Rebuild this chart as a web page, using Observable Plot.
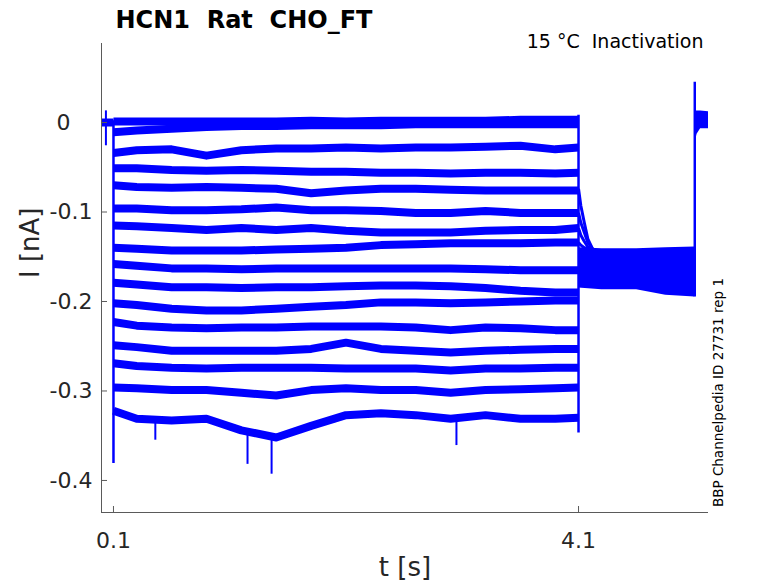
<!DOCTYPE html>
<html><head><meta charset="utf-8">
<script src="https://cdn.jsdelivr.net/npm/d3@7"></script>
<script src="https://cdn.jsdelivr.net/npm/@observablehq/plot@0.6"></script>
<style>
body{margin:0;background:#fff}
svg text{white-space:pre}
</style>
</head><body><div id="chart"></div>
<script>
// ---- data (current in nA, time in s) ----
const titleText = "HCN1  Rat  CHO_FT";
const conditionText = "15 °C  Inactivation";
const sourceText = "BBP Channelpedia ID 27731 rep 1";
const xLabel = "t [s]";
const yLabel = "I [nA]";

const xDomain = [-0.003, 5.218];
const yDomain = [-0.4358, 0.0883];
const xTicks = [0.1, 4.1];
const yTicks = [-0.4, -0.3, -0.2, -0.1];
const yZeroTick = [0];

const holdTimes = [0, 0.1];
const holdValues = [0.0, 0.0];

const stepTimes = [0.1, 0.3, 0.6, 0.9, 1.2, 1.5, 1.8, 2.1, 2.4, 2.7, 3.0, 3.3, 3.6, 3.9, 4.1];
const traces = [
  [0.001,0.001,0.001,0.001,0.001,0.001,0.002,0.001,0.002,0.002,0.002,0.002,0.003,0.003,0.003],
  [-0.011,-0.009,-0.007,-0.005,-0.004,-0.004,-0.003,-0.003,-0.003,-0.002,-0.002,-0.002,-0.002,-0.002,-0.002],
  [-0.034,-0.031,-0.030,-0.037,-0.031,-0.029,-0.029,-0.028,-0.029,-0.028,-0.028,-0.027,-0.026,-0.030,-0.028],
  [-0.051,-0.051,-0.053,-0.054,-0.053,-0.054,-0.055,-0.055,-0.056,-0.056,-0.057,-0.056,-0.056,-0.057,-0.056],
  [-0.070,-0.072,-0.073,-0.072,-0.073,-0.074,-0.079,-0.076,-0.074,-0.074,-0.075,-0.076,-0.076,-0.076,-0.076],
  [-0.096,-0.096,-0.098,-0.098,-0.097,-0.095,-0.098,-0.098,-0.099,-0.101,-0.101,-0.099,-0.101,-0.101,-0.101],
  [-0.115,-0.116,-0.118,-0.120,-0.118,-0.120,-0.118,-0.121,-0.123,-0.123,-0.123,-0.121,-0.120,-0.120,-0.118],
  [-0.140,-0.141,-0.143,-0.143,-0.143,-0.142,-0.141,-0.140,-0.137,-0.136,-0.135,-0.135,-0.135,-0.134,-0.134],
  [-0.158,-0.160,-0.163,-0.163,-0.164,-0.163,-0.163,-0.163,-0.163,-0.163,-0.163,-0.164,-0.165,-0.165,-0.165],
  [-0.179,-0.181,-0.184,-0.184,-0.185,-0.184,-0.184,-0.183,-0.182,-0.182,-0.183,-0.185,-0.188,-0.190,-0.190],
  [-0.202,-0.204,-0.208,-0.210,-0.210,-0.208,-0.206,-0.204,-0.201,-0.201,-0.202,-0.201,-0.200,-0.199,-0.199],
  [-0.223,-0.227,-0.229,-0.230,-0.229,-0.229,-0.228,-0.228,-0.228,-0.229,-0.232,-0.229,-0.230,-0.232,-0.232],
  [-0.249,-0.251,-0.255,-0.255,-0.255,-0.255,-0.253,-0.246,-0.253,-0.255,-0.257,-0.255,-0.254,-0.253,-0.253],
  [-0.269,-0.272,-0.274,-0.275,-0.274,-0.274,-0.274,-0.275,-0.275,-0.275,-0.277,-0.275,-0.275,-0.274,-0.274],
  [-0.296,-0.297,-0.299,-0.299,-0.302,-0.305,-0.299,-0.297,-0.299,-0.299,-0.302,-0.299,-0.298,-0.297,-0.296],
  [-0.322,-0.331,-0.333,-0.331,-0.344,-0.352,-0.339,-0.327,-0.325,-0.327,-0.331,-0.327,-0.331,-0.331,-0.330]
];

// decaying tails right after the step at 4.1 s
const tailTimes = [4.1, 4.12, 4.15, 4.18, 4.22];
const tails = [
  [-0.074,-0.093,-0.112,-0.130,-0.141],
  [-0.101,-0.112,-0.123,-0.134,-0.141],
  [-0.118,-0.126,-0.133,-0.139,-0.142],
  [-0.134,-0.137,-0.140,-0.141,-0.142]
];

// noise envelope of all traces during the test pulse
const testTimes = [4.1, 4.3, 4.6, 4.85, 5.1];
const testTop = [-0.140, -0.141, -0.141, -0.140, -0.139];
const testBottom = [-0.185, -0.187, -0.187, -0.193, -0.195];

// envelope after return to holding
const endTimes = [5.1, 5.12, 5.15, 5.218];
const endTop = [0.013, 0.013, 0.013, 0.012];
const endBottom = [-0.024, -0.013, -0.007, -0.007];

// capacitive transients at the voltage steps
const transTimes = [0.1, 4.1, 5.1];
const transTop = [0.002, 0.008, 0.045];
const transBottom = [-0.381, -0.347, -0.195];

// isolated spikes
const spikeTimes = [0.035, 0.46, 1.253, 1.46, 3.05];
const spikeTop = [0.013, -0.335, -0.345, -0.350, -0.331];
const spikeBottom = [-0.026, -0.355, -0.382, -0.393, -0.361];

// ---- tables built from the arrays ----
const blue = "#0000ff";
const stepRows = traces.flatMap((vals, i) => vals.map((v, j) => ({trace: i, t: stepTimes[j], v})));
const tailRows = tails.flatMap((vals, i) => vals.map((v, j) => ({trace: i, t: tailTimes[j], v})));
const holdRows = holdTimes.map((t, i) => ({t, v: holdValues[i]}));
const testRows = testTimes.map((t, i) => ({t, hi: testTop[i], lo: testBottom[i]}));
const endRows = endTimes.map((t, i) => ({t, hi: endTop[i], lo: endBottom[i]}));
const transRows = transTimes.map((t, i) => ({t, top: transTop[i], bottom: transBottom[i]}));
const spikeRows = spikeTimes.map((t, i) => ({t, top: spikeTop[i], bottom: spikeBottom[i]}));

const axisColor = "#5a5a5a";

const chart = Plot.plot({
  width: 778,
  height: 583,
  marginLeft: 101,
  marginRight: 70,
  marginTop: 43,
  marginBottom: 71,
  x: {domain: xDomain, label: null},
  y: {domain: yDomain, label: null},
  style: {fontFamily: "DejaVu Sans", color: "#262626", background: "#fff"},
  marks: [
    Plot.areaY(testRows, {x: "t", y1: "lo", y2: "hi", fill: blue}),
    Plot.areaY(endRows, {x: "t", y1: "lo", y2: "hi", fill: blue}),
    Plot.line(holdRows, {x: "t", y: "v", stroke: blue, strokeWidth: 8, strokeLinecap: "butt"}),
    Plot.line(stepRows, {x: "t", y: "v", z: "trace", stroke: blue, strokeWidth: 8, strokeLinejoin: "round", strokeLinecap: "butt"}),
    Plot.line(tailRows, {x: "t", y: "v", z: "trace", stroke: blue, strokeWidth: 3, strokeLinecap: "butt"}),
    Plot.ruleX(transRows, {x: "t", y1: "top", y2: "bottom", stroke: blue, strokeWidth: 2.5}),
    Plot.ruleX(spikeRows, {x: "t", y1: "top", y2: "bottom", stroke: blue, strokeWidth: 2}),
    Plot.ruleX([xDomain[0]], {stroke: axisColor}),
    Plot.ruleY([yDomain[0]], {stroke: axisColor}),
    Plot.axisY({ticks: [...yTicks, ...yZeroTick], tickSize: 6, dx: 6, tickFormat: () => "", stroke: axisColor, label: null}),
    Plot.axisX({ticks: xTicks, tickSize: 6, dy: -6, tickFormat: () => "", stroke: axisColor, label: null}),
    Plot.axisY({ticks: yTicks, tickSize: 0, tickPadding: 9, fontSize: 22, tickFormat: d => d.toFixed(1), label: null}),
    Plot.axisY({ticks: yZeroTick, tickSize: 0, tickPadding: 31, fontSize: 22, tickFormat: d => String(d), label: null}),
    Plot.axisX({ticks: xTicks, tickSize: 0, tickPadding: 20, fontSize: 22, tickFormat: d => d.toFixed(1), label: null}),
    Plot.text([titleText], {text: d => d, frameAnchor: "top-left", dx: 14, dy: -16, textAnchor: "start", lineAnchor: "bottom", fontSize: 24, fontWeight: "bold", fill: "#000"}),
    Plot.text([conditionText], {text: d => d, frameAnchor: "top-right", dx: -5, dy: 4, textAnchor: "end", lineAnchor: "bottom", fontSize: 19, fill: "#000"}),
    Plot.text([sourceText], {text: d => d, frameAnchor: "right", dx: 14, rotate: -90, lineAnchor: "bottom", fontSize: 13.5, fill: "#000"}),
    Plot.text([yLabel], {text: d => d, frameAnchor: "left", dx: -63, rotate: -90, lineAnchor: "bottom", fontSize: 26, fill: "#262626"}),
    Plot.text([xLabel], {text: d => d, frameAnchor: "bottom", dy: 63, lineAnchor: "bottom", fontSize: 26, fill: "#262626"})
  ]
});
document.getElementById("chart").appendChild(chart);
</script>
</body></html>
